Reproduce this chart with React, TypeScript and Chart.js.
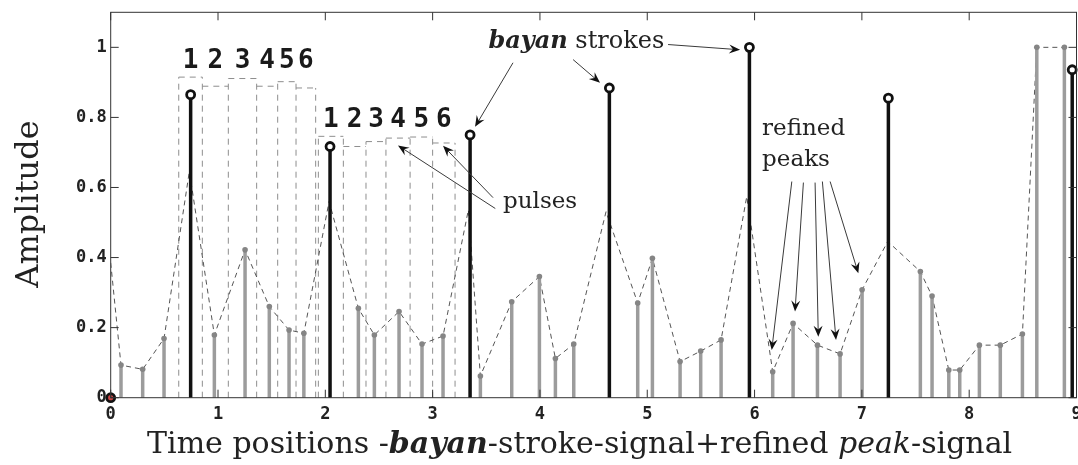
import React, { useEffect, useRef } from 'react';
import { Chart, registerables } from 'chart.js';

Chart.register(...registerables);

// ---- data ----
const refinedX = [0.096, 0.298, 0.497, 0.966, 1.252, 1.478, 1.662, 1.8, 2.308, 2.457, 2.687, 2.901, 3.097, 3.445, 3.737, 3.995, 4.144, 4.315, 4.911, 5.048, 5.306, 5.498, 5.688, 6.169, 6.359, 6.586, 6.797, 7.002, 7.545, 7.654, 7.81, 7.912, 8.095, 8.29, 8.496, 8.63, 8.887];
const refinedY = [0.093, 0.081, 0.169, 0.179, 0.422, 0.26, 0.193, 0.184, 0.255, 0.179, 0.246, 0.153, 0.176, 0.062, 0.274, 0.346, 0.112, 0.153, 0.27, 0.398, 0.103, 0.133, 0.165, 0.074, 0.212, 0.15, 0.125, 0.308, 0.36, 0.29, 0.079, 0.079, 0.15, 0.15, 0.182, 1.0, 1.0];

const strokeX = [0, 0.745, 2.044, 3.349, 4.647, 5.952, 7.247, 8.96];
const strokeY = [0, 0.865, 0.717, 0.75, 0.884, 1.0, 0.855, 0.936];

const envelopeX = [0, 0.096, 0.298, 0.497, 0.733, 0.966, 1.252, 1.478, 1.662, 1.8, 2.035, 2.308, 2.457, 2.687, 2.901, 3.097, 3.333, 3.445, 3.737, 3.995, 4.144, 4.315, 4.616, 4.911, 5.048, 5.306, 5.498, 5.688, 5.927, 6.169, 6.359, 6.586, 6.797, 7.002, 7.241, 7.545, 7.654, 7.81, 7.912, 8.095, 8.29, 8.496, 8.63, 8.887];
const envelopeY = [0.385, 0.093, 0.081, 0.169, 0.646, 0.179, 0.422, 0.26, 0.193, 0.184, 0.56, 0.255, 0.179, 0.246, 0.153, 0.176, 0.536, 0.062, 0.274, 0.346, 0.112, 0.153, 0.531, 0.27, 0.398, 0.103, 0.133, 0.165, 0.574, 0.074, 0.212, 0.15, 0.125, 0.308, 0.446, 0.36, 0.29, 0.079, 0.079, 0.15, 0.15, 0.182, 1.0, 1.0];

const pulseEdges1 = [0.634, 0.854, 1.096, 1.36, 1.556, 1.727, 1.91];
const pulseTops1 = [0.915, 0.889, 0.911, 0.889, 0.902, 0.884];
const pulseEdges2 = [1.935, 2.168, 2.379, 2.565, 2.79, 3.0, 3.209];
const pulseTops2 = [0.746, 0.717, 0.731, 0.741, 0.744, 0.727];
const pulseLabels = ['1', '2', '3', '4', '5', '6'];

const xTicks = [0, 1, 2, 3, 4, 5, 6, 7, 8, 9];
const yTicks = [0, 0.2, 0.4, 0.6, 0.8, 1];

const xTitleParts = [
  { text: 'Time positions -', style: '' },
  { text: 'bayan', style: 'italic bold ' },
  { text: '-stroke-signal+refined ', style: '' },
  { text: 'peak', style: 'italic ' },
  { text: '-signal', style: '' },
];
const yTitle = 'Amplitude';

// annotations (data coordinates)
const strokeNote = { x: 3.52, y: 0.998 };
const strokeArrows = [
  [3.749, 0.956, 3.395, 0.773],
  [4.309, 0.965, 4.56, 0.899],
  [5.194, 1.008, 5.865, 0.993],
];
const pulseNote = { text: 'pulses', x: 3.656, y: 0.541 };
const pulseArrows = [
  [3.584, 0.54, 2.677, 0.72],
  [3.563, 0.571, 3.097, 0.719],
];
const peakNote = { lines: ['refined', 'peaks'], x: 6.07, y: [0.751, 0.66] };
const peakArrows = [
  [6.347, 0.617, 6.16, 0.136],
  [6.455, 0.614, 6.377, 0.246],
  [6.564, 0.614, 6.594, 0.174],
  [6.632, 0.617, 6.759, 0.165],
  [6.704, 0.617, 6.967, 0.355],
];

// ---- helpers ----
function stemData(xs: number[], ys: number[]) {
  const out: any[] = [];
  xs.forEach((x, i) => {
    out.push({ x, y: 0, top: false });
    out.push({ x, y: ys[i], top: true });
    out.push({ x, y: NaN, top: false });
  });
  return out;
}

// vertical dashed edges of the pulses, each drawn once
function pulseEdgeData(edges: number[], tops: number[]) {
  const out: any[] = [];
  edges.forEach((e, i) => {
    const h = Math.max(i > 0 ? tops[i - 1] : 0, i < tops.length ? tops[i] : 0);
    out.push({ x: e, y: 0 });
    out.push({ x: e, y: h });
    out.push({ x: e, y: NaN });
  });
  return out;
}

// horizontal dashed tops of the pulses
function pulseTopData(edges: number[], tops: number[]) {
  const out: any[] = [];
  tops.forEach((t, i) => {
    out.push({ x: edges[i], y: t });
    out.push({ x: edges[i + 1], y: t });
    out.push({ x: edges[i + 1], y: NaN });
  });
  return out;
}

const SERIF = "'DejaVu Serif', serif";
const MONO = "'DejaVu Sans Mono', monospace";

function arrow(ctx: CanvasRenderingContext2D, x1: number, y1: number, x2: number, y2: number) {
  const ang = Math.atan2(y2 - y1, x2 - x1);
  const len = 11;
  const hw = 4.5;
  ctx.save();
  ctx.strokeStyle = '#3a3a3a';
  ctx.lineWidth = 1;
  ctx.beginPath();
  ctx.moveTo(x1, y1);
  ctx.lineTo(x2 - Math.cos(ang) * 6, y2 - Math.sin(ang) * 6);
  ctx.stroke();
  ctx.translate(x2, y2);
  ctx.rotate(ang);
  ctx.fillStyle = '#111';
  ctx.beginPath();
  ctx.moveTo(0, 0);
  ctx.lineTo(-len, -hw);
  ctx.lineTo(-len * 0.65, 0);
  ctx.lineTo(-len, hw);
  ctx.closePath();
  ctx.fill();
  ctx.restore();
}

const overlayPlugin = {
  id: 'overlay',
  afterDatasetsDraw(chart: any) {
    const ctx: CanvasRenderingContext2D = chart.ctx;
    const xs = chart.scales.x;
    const ys = chart.scales.y;
    const { left, right, top, bottom } = chart.chartArea;
    const px = (v: number) => xs.getPixelForValue(v);
    const py = (v: number) => ys.getPixelForValue(v);

    ctx.save();
    // box
    ctx.strokeStyle = '#333';
    ctx.lineWidth = 1;
    ctx.strokeRect(left, top, right - left, bottom - top);
    // inward ticks
    ctx.beginPath();
    xTicks.forEach((v) => {
      const x = px(v);
      ctx.moveTo(x, bottom);
      ctx.lineTo(x, bottom - 8);
      ctx.moveTo(x, top);
      ctx.lineTo(x, top + 8);
    });
    yTicks.forEach((v) => {
      const y = py(v);
      ctx.moveTo(left, y);
      ctx.lineTo(left + 8, y);
      ctx.moveTo(right, y);
      ctx.lineTo(right - 8, y);
    });
    ctx.stroke();

    // pulse numbers
    ctx.fillStyle = '#1a1a1a';
    ctx.font = `bold 26px ${MONO}`;
    ctx.textAlign = 'center';
    ctx.textBaseline = 'alphabetic';
    [[pulseEdges1, pulseTops1], [pulseEdges2, pulseTops2]].forEach(([edges, tops]) => {
      const baseY = py(Math.max(...tops)) - 9;
      pulseLabels.forEach((lab, i) => {
        ctx.fillText(lab, px((edges[i] + edges[i + 1]) / 2), baseY);
      });
    });

    // arrows
    [...strokeArrows, ...pulseArrows, ...peakArrows].forEach((a) => {
      arrow(ctx, px(a[0]), py(a[1]), px(a[2]), py(a[3]));
    });

    // notes
    ctx.fillStyle = '#222';
    ctx.textAlign = 'left';
    let nx = px(strokeNote.x);
    const ny = py(strokeNote.y);
    ctx.font = `italic bold 24px ${SERIF}`;
    ctx.fillText('bayan', nx, ny);
    nx += ctx.measureText('bayan').width;
    ctx.font = `24px ${SERIF}`;
    ctx.fillText(' strokes', nx, ny);

    ctx.font = `23px ${SERIF}`;
    ctx.fillText(pulseNote.text, px(pulseNote.x), py(pulseNote.y));
    peakNote.lines.forEach((t, i) => ctx.fillText(t, px(peakNote.x), py(peakNote.y[i])));

    // x title
    const fontSize = 30;
    let total = 0;
    xTitleParts.forEach((p) => {
      ctx.font = `${p.style}${fontSize}px ${SERIF}`;
      total += ctx.measureText(p.text).width;
    });
    let tx = (left + right) / 2 - 14 - total / 2;
    const tyBase = 453;
    xTitleParts.forEach((p) => {
      ctx.font = `${p.style}${fontSize}px ${SERIF}`;
      ctx.fillText(p.text, tx, tyBase);
      tx += ctx.measureText(p.text).width;
    });

    // y title
    ctx.save();
    ctx.translate(38, 204);
    ctx.rotate(-Math.PI / 2);
    ctx.textAlign = 'center';
    ctx.font = `32px ${SERIF}`;
    ctx.fillText(yTitle, 0, 0);
    ctx.restore();

    ctx.restore();
  },
};

const dashedStyle = {
  borderColor: '#8e8e8e',
  borderWidth: 1,
  borderDash: [6, 5],
  tension: 0,
  spanGaps: false,
  pointRadius: 0,
};

export default function App() {
  const ref = useRef<HTMLCanvasElement>(null);

  useEffect(() => {
    if (!ref.current) return;
    const chart = new Chart(ref.current, {
      type: 'line',
      data: {
        datasets: [
          {
            label: 'strokes',
            data: stemData(strokeX, strokeY),
            borderColor: '#111',
            borderWidth: 3.5,
            tension: 0,
            spanGaps: false,
            clip: false as any,
            pointRadius: (c: any) => (c.raw && c.raw.top ? 4 : 0),
            pointBorderWidth: 2.8,
            pointBorderColor: '#111',
            pointBackgroundColor: (c: any) => (c.dataIndex === 1 ? '#c44' : '#fff'),
          },
          {
            label: 'refined',
            data: stemData(refinedX, refinedY),
            borderColor: '#9c9c9c',
            borderWidth: 3.5,
            tension: 0,
            spanGaps: false,
            pointRadius: (c: any) => (c.raw && c.raw.top ? 2.8 : 0),
            pointBorderWidth: 0,
            pointBackgroundColor: '#858585',
          },
          {
            label: 'envelope',
            data: envelopeX.map((x, i) => ({ x, y: envelopeY[i] })),
            borderColor: '#555',
            borderWidth: 1,
            borderDash: [5, 4],
            tension: 0,
            pointRadius: 0,
          },
          { label: 'pulseTops1', data: pulseTopData(pulseEdges1, pulseTops1), ...dashedStyle },
          { label: 'pulseEdges1', data: pulseEdgeData(pulseEdges1, pulseTops1), ...dashedStyle },
          { label: 'pulseTops2', data: pulseTopData(pulseEdges2, pulseTops2), ...dashedStyle },
          { label: 'pulseEdges2', data: pulseEdgeData(pulseEdges2, pulseTops2), ...dashedStyle },
        ],
      },
      options: {
        animation: false,
        responsive: false,
        devicePixelRatio: 1,
        events: [],
        layout: { padding: { left: 0, right: 1.5, top: 12.3, bottom: 0 } },
        plugins: { legend: { display: false }, tooltip: { enabled: false } },
        scales: {
          x: {
            type: 'linear',
            min: 0,
            max: 9,
            grid: { display: false, drawTicks: false },
            border: { display: false },
            ticks: {
              padding: 7,
              color: '#222',
              font: { family: MONO, size: 17, weight: 'bold' },
              callback: (v: any) => String(v),
            },
            afterBuildTicks: (s: any) => {
              s.ticks = xTicks.map((v) => ({ value: v }));
            },
            afterFit: (s: any) => {
              s.height = 465 - 397.7;
              s.paddingLeft = 0;
              s.paddingRight = 0;
            },
          },
          y: {
            type: 'linear',
            min: 0,
            max: 1.1,
            grid: { display: false, drawTicks: false },
            border: { display: false },
            ticks: {
              padding: 4,
              color: '#222',
              font: { family: MONO, size: 17, weight: 'bold' },
              callback: (v: any) => String(v),
            },
            afterBuildTicks: (s: any) => {
              s.ticks = yTicks.map((v) => ({ value: v }));
            },
            afterFit: (s: any) => {
              s.width = 110.7;
              s.paddingTop = 0;
              s.paddingBottom = 0;
            },
          },
        },
      },
      plugins: [overlayPlugin],
    } as any);
    return () => chart.destroy();
  }, []);

  return (
    <div style={{ position: 'fixed', left: 0, top: 0, width: 1078, height: 465, background: '#fff', overflow: 'hidden' }}>
      <canvas ref={ref} width={1078} height={465} />
    </div>
  );
}
